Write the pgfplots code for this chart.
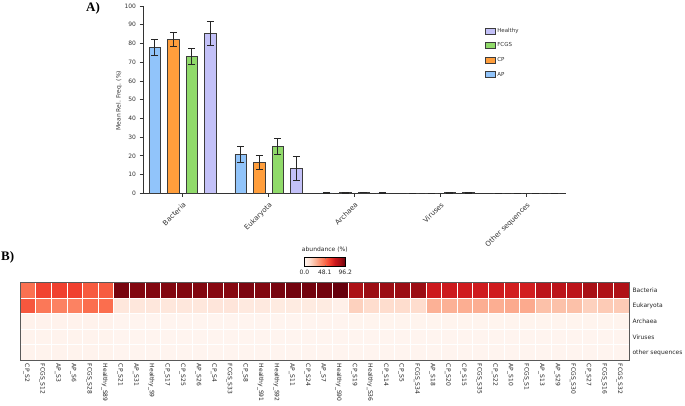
\documentclass[border=0pt]{standalone}
\usepackage{pgfplots}
\pgfplotsset{compat=1.18}
\usepackage{fontspec}
\setmainfont{DejaVu Sans}
\newfontfamily\panelfont{Liberation Serif}

\definecolor{apc}{RGB}{145,196,250}
\definecolor{cpc}{RGB}{255,158,60}
\definecolor{fcgsc}{RGB}{144,218,106}
\definecolor{hlc}{RGB}{195,193,248}
\definecolor{edge}{RGB}{60,60,60}

\pgfplotsset{
  /pgf/number format/assume math mode=true,
  mybar/.style={
    ybar, bar width=0.134, bar shift=0pt, draw=edge, line width=0.7pt,
    legend image code/.code={\draw[##1] (0pt,-3pt) rectangle (10pt,3pt);},
    error bars/y dir=both, error bars/y explicit,
    error bars/error bar style={draw=black!85, line width=0.7pt},
    error bars/error mark options={rotate=90, mark size=3.5pt, black!85, line width=0.7pt},
  },
}

\begin{document}
\begin{tikzpicture}

\node[anchor=base west, inner sep=0, font=\panelfont\bfseries\fontsize{13}{14}\selectfont] at (86pt,393pt) {A)};
\node[anchor=base west, inner sep=0, font=\panelfont\bfseries\fontsize{13}{14}\selectfont] at (1pt,145pt) {B)};

% ---- panel A: mean relative frequencies (bars placed at group +- offset)
\begin{axis}[
  at={(354.5pt,305.35pt)}, anchor=center,
  scale only axis, width=423pt, height=187.3pt,
  xmin=-0.46, xmax=4.46, ymin=0, ymax=100,
  axis x line*=bottom, axis y line*=left,
  axis line style={draw=black!80, line width=0.8pt},
  tick align=outside, major tick length=3.5pt,
  tick style={draw=black!80, line width=0.7pt},
  xtick={0,...,4},
  xticklabels={Bacteria,Eukaryota,Archaea,Viruses,Other sequences},
  xticklabel style={rotate=45, anchor=north east, font=\fontsize{7}{8}\selectfont, text=black!80},
  ytick={0,10,...,100},
  yticklabel style={font=\fontsize{6}{7}\selectfont, text=black!80},
  ylabel={Mean Rel. Freq. (\%)},
  ylabel style={at={(axis description cs:-0.057,0.495)}, anchor=center, font=\fontsize{6}{7}\selectfont, text=black!80},
  legend style={at={(0.80,0.904)}, anchor=north west, draw=none, fill=none,
    font=\fontsize{5.5}{6.5}\selectfont, row sep=5pt, text=black!80},
  legend cell align=left,
  reverse legend,
]
\addplot[mybar, fill=apc] coordinates {
  (-0.323,77.8) +- (0,4.4) (0.677,20.8) +- (0,4.5) (1.677,0.2) +- (0,0.1) (2.677,0.1) +- (0,0.05) (3.677,0) +- (0,0)
};
\addlegendentry{AP}
\addplot[mybar, fill=cpc] coordinates {
  (-0.108,82.0) +- (0,3.7) (0.892,16.4) +- (0,3.7) (1.892,0.3) +- (0,0.1) (2.892,0.1) +- (0,0.05) (3.892,0) +- (0,0)
};
\addlegendentry{CP}
\addplot[mybar, fill=fcgsc] coordinates {
  (0.108,73.1) +- (0,4.1) (1.108,25.2) +- (0,4.3) (2.108,0.5) +- (0,0.2) (3.108,0.3) +- (0,0.1) (4.108,0) +- (0,0)
};
\addlegendentry{FCGS}
\addplot[mybar, fill=hlc] coordinates {
  (0.323,85.4) +- (0,6.2) (1.323,13.3) +- (0,6.2) (2.323,0.2) +- (0,0.1) (3.323,0.4) +- (0,0.2) (4.323,0) +- (0,0)
};
\addlegendentry{Healthy}
\end{axis}

% ---- panel B: abundance heatmap
\begin{axis}[
  at={(324.65pt,83.5pt)}, anchor=center,
  scale only axis, width=608.7pt, height=77.6pt,
  xmin=-0.5, xmax=38.5, ymin=-0.5, ymax=4.5, y dir=reverse,
  axis on top,
  axis line style={draw=black!65, line width=1pt},
  major tick length=0pt, minor tick length=0pt,
  xtick={0,...,38},
  xticklabels={CP\_S2,FCGS\_S12,AP\_S3,AP\_S6,FCGS\_S28,Healthy\_S89,CP\_S21,AP\_S31,Healthy\_S9,CP\_S17,CP\_S25,AP\_S26,CP\_S4,FCGS\_S33,CP\_S8,Healthy\_S91,Healthy\_S92,AP\_S11,CP\_S24,AP\_S7,Healthy\_S90,CP\_S19,Healthy\_S36,CP\_S14,CP\_S5,FCGS\_S34,AP\_S18,CP\_S20,CP\_S15,FCGS\_S35,CP\_S22,AP\_S10,FCGS\_S1,AP\_S13,AP\_S29,FCGS\_S30,CP\_S27,FCGS\_S16,FCGS\_S32},
  xticklabel style={rotate=-90, anchor=west, font=\fontsize{6}{7}\selectfont, text=black!85, xshift=0pt, yshift=-1.5pt},
  ytick={0,...,4},
  yticklabels={Bacteria,Eukaryota,Archaea,Viruses,other sequences},
  yticklabel pos=right,
  yticklabel style={anchor=west, font=\fontsize{6}{7}\selectfont, text=black!85},
  minor xtick={0.5,1.5,...,37.5}, minor ytick={0.5,1.5,2.5,3.5},
  xminorgrids, yminorgrids,
  minor grid style={draw=white, line width=0.9pt},
  colormap={reds}{rgb255=(255,245,240) rgb255=(254,224,210) rgb255=(252,187,161) rgb255=(252,146,114) rgb255=(251,106,74) rgb255=(239,59,44) rgb255=(203,24,29) rgb255=(165,15,21) rgb255=(103,0,13)},
  point meta min=0, point meta max=96.2,
  colorbar horizontal,
  colorbar style={
    at={(0.4666,1.206)}, anchor=south west,
    scale only axis, width=41pt, height=9.4pt,
    xtick={0,48.1,96.2}, xticklabels={0.0,48.1,96.2},
    xticklabel style={font=\fontsize{6}{7}\selectfont, text=black!85},
    major tick length=1.5pt,
    axis line style={draw=black, line width=0.6pt},
    title={abundance (\%)},
    title style={font=\fontsize{6}{7}\selectfont, yshift=-5pt, text=black!85},
  },
]
\addplot[matrix plot*, mesh/cols=39, point meta=explicit] coordinates {
(0,0) [46] (1,0) [58] (2,0) [59] (3,0) [59] (4,0) [52] (5,0) [52] (6,0) [93] (7,0) [91] (8,0) [91] (9,0) [91]
(10,0) [91] (11,0) [91] (12,0) [90] (13,0) [90] (14,0) [92] (15,0) [91] (16,0) [93] (17,0) [94] (18,0) [94] (19,0) [94]
(20,0) [96.2] (21,0) [82] (22,0) [86] (23,0) [86] (24,0) [86] (25,0) [86] (26,0) [72] (27,0) [72] (28,0) [71] (29,0) [71]
(30,0) [71] (31,0) [70] (32,0) [70] (33,0) [77] (34,0) [77] (35,0) [77] (36,0) [83] (37,0) [81] (38,0) [81]

(0,1) [53] (1,1) [44] (2,1) [41] (3,1) [41] (4,1) [47] (5,1) [47] (6,1) [8] (7,1) [8] (8,1) [8] (9,1) [8]
(10,1) [8] (11,1) [8] (12,1) [9] (13,1) [9] (14,1) [7] (15,1) [7] (16,1) [6] (17,1) [6] (18,1) [6] (19,1) [6]
(20,1) [3] (21,1) [17] (22,1) [13] (23,1) [13] (24,1) [13] (25,1) [13] (26,1) [27] (27,1) [27] (28,1) [28] (29,1) [28]
(30,1) [28] (31,1) [29] (32,1) [29] (33,1) [22] (34,1) [22] (35,1) [22] (36,1) [17] (37,1) [19] (38,1) [19]

(0,2) [1.5] (1,2) [1.5] (2,2) [1.5] (3,2) [1.5] (4,2) [1.5] (5,2) [1.5] (6,2) [0.5] (7,2) [0.5] (8,2) [0.5] (9,2) [0.5]
(10,2) [0.5] (11,2) [0.5] (12,2) [0.5] (13,2) [0.5] (14,2) [0.5] (15,2) [0.5] (16,2) [0.5] (17,2) [0.5] (18,2) [0.5] (19,2) [0.5]
(20,2) [0.5] (21,2) [0.8] (22,2) [0.8] (23,2) [0.8] (24,2) [0.8] (25,2) [0.8] (26,2) [0.8] (27,2) [0.8] (28,2) [0.8] (29,2) [0.8]
(30,2) [0.8] (31,2) [0.8] (32,2) [0.8] (33,2) [0.8] (34,2) [0.8] (35,2) [0.8] (36,2) [0.8] (37,2) [0.8] (38,2) [0.8]

(0,3) [1.2] (1,3) [1.2] (2,3) [1.2] (3,3) [1.2] (4,3) [1.2] (5,3) [1.2] (6,3) [0.5] (7,3) [0.5] (8,3) [0.5] (9,3) [0.5]
(10,3) [0.5] (11,3) [0.5] (12,3) [0.5] (13,3) [0.5] (14,3) [0.5] (15,3) [0.5] (16,3) [0.5] (17,3) [0.5] (18,3) [0.5] (19,3) [0.5]
(20,3) [0.5] (21,3) [0.5] (22,3) [0.5] (23,3) [0.5] (24,3) [0.5] (25,3) [0.5] (26,3) [0.5] (27,3) [0.5] (28,3) [0.5] (29,3) [0.5]
(30,3) [0.5] (31,3) [0.5] (32,3) [0.5] (33,3) [0.5] (34,3) [0.5] (35,3) [0.5] (36,3) [0.5] (37,3) [0.5] (38,3) [0.5]

(0,4) [1.0] (1,4) [1.0] (2,4) [1.0] (3,4) [1.0] (4,4) [1.0] (5,4) [1.0] (6,4) [0.5] (7,4) [0.5] (8,4) [0.5] (9,4) [0.5]
(10,4) [0.5] (11,4) [0.5] (12,4) [0.5] (13,4) [0.5] (14,4) [0.5] (15,4) [0.5] (16,4) [0.5] (17,4) [0.5] (18,4) [0.5] (19,4) [0.5]
(20,4) [0.5] (21,4) [0.5] (22,4) [0.5] (23,4) [0.5] (24,4) [0.5] (25,4) [0.5] (26,4) [0.5] (27,4) [0.5] (28,4) [0.5] (29,4) [0.5]
(30,4) [0.5] (31,4) [0.5] (32,4) [0.5] (33,4) [0.5] (34,4) [0.5] (35,4) [0.5] (36,4) [0.5] (37,4) [0.5] (38,4) [0.5]
};
\end{axis}

\pgfresetboundingbox
\useasboundingbox (0pt,0pt) rectangle (685pt,405pt);
\end{tikzpicture}
\end{document}
